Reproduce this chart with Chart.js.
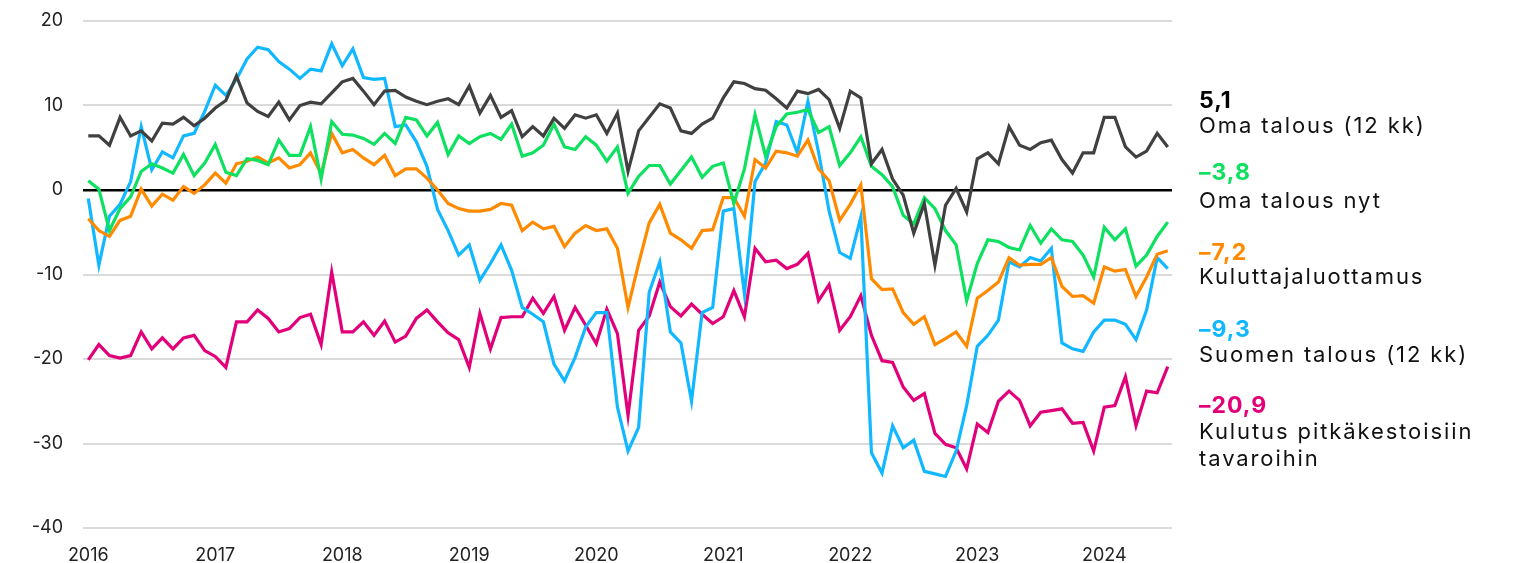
<!DOCTYPE html>
<html lang="fi">
<head>
<meta charset="utf-8">
<title>Kuluttajaluottamus</title>
<script src="https://cdn.jsdelivr.net/npm/chart.js@4.4.1/dist/chart.umd.min.js"></script>
<style>
  body { margin: 0; background: #fff; }
  #wrap { position: relative; width: 1531px; height: 563px; font-family: Inter, "Noto Sans", sans-serif; }
  #chart { position: absolute; left: 0; top: 0; }
  .lbl { position: absolute; left: 1199px; line-height: 1; white-space: nowrap; color: #111; font-size: 22px; letter-spacing: 1.9px; }
  .val { font-weight: 700; font-size: 23px; letter-spacing: 1px; }
</style>
</head>
<body>
<div id="wrap">
  <canvas id="chart" width="1531" height="563"></canvas>
  <div class="lbl val" style="top:89px;color:#000">5,1</div>
  <div class="lbl" style="top:114px">Oma talous (12 kk)</div>
  <div class="lbl val" style="top:161px;color:#0ee060">–3,8</div>
  <div class="lbl" style="top:189px">Oma talous nyt</div>
  <div class="lbl val" style="top:241px;color:#ff8a00">–7,2</div>
  <div class="lbl" style="top:265px">Kuluttajaluottamus</div>
  <div class="lbl val" style="top:318px;color:#12b8ff">–9,3</div>
  <div class="lbl" style="top:343px">Suomen talous (12 kk)</div>
  <div class="lbl val" style="top:394px;color:#e2007a">–20,9</div>
  <div class="lbl" style="top:420px">Kulutus pitkäkestoisiin</div>
  <div class="lbl" style="top:447px">tavaroihin</div>
</div>
<script>
// monthly, 1/2016 - 7/2024
const yearLabels = ['2016', '2017', '2018', '2019', '2020', '2021', '2022', '2023', '2024'];

const omaTalous12 = [
  6.4, 6.4, 5.3, 8.6, 6.4, 7.0, 5.8, 7.9, 7.8, 8.6, 7.6, 8.5,
  9.7, 10.6, 13.5, 10.3, 9.3, 8.7, 10.4, 8.3, 10.0, 10.4, 10.2, 11.5,
  12.8, 13.2, 11.7, 10.1, 11.7, 11.8, 11.0, 10.5, 10.1, 10.5, 10.8, 10.1,
  12.3, 9.1, 11.2, 8.6, 9.4, 6.3, 7.5, 6.4, 8.5, 7.3, 8.9, 8.5,
  8.9, 6.7, 9.1, 2.2, 7.0, 8.6, 10.2, 9.7, 7.0, 6.7, 7.8, 8.5,
  10.9, 12.8, 12.6, 12.0, 11.8, 10.8, 9.7, 11.7, 11.4, 11.9, 10.7, 7.3,
  11.7, 10.9, 3.1, 4.8, 1.3, -0.6, -5.1, -1.6, -8.9, -1.8, 0.2, -2.6,
  3.7, 4.4, 3.1, 7.5, 5.3, 4.8, 5.6, 5.9, 3.6, 2.0, 4.4, 4.4,
  8.6, 8.6, 5.1, 3.9, 4.6, 6.7, 5.1
];

const omaTalousNyt = [
  1.1, 0.1, -4.8, -2.2, -0.8, 2.2, 3.1, 2.6, 2.0, 4.2, 1.7, 3.2,
  5.4, 2.1, 1.7, 3.7, 3.5, 3.0, 5.9, 4.1, 4.1, 7.5, 1.3, 8.1,
  6.6, 6.5, 6.1, 5.4, 6.7, 5.5, 8.6, 8.3, 6.4, 8.0, 4.2, 6.4,
  5.5, 6.3, 6.7, 6.0, 7.8, 4.0, 4.4, 5.3, 7.8, 5.1, 4.8, 6.3,
  5.3, 3.4, 5.1, -0.4, 1.6, 2.9, 2.9, 0.7, 2.3, 3.9, 1.5, 2.8,
  3.2, -1.6, 2.5, 8.9, 4.0, 7.5, 9.0, 9.2, 9.5, 6.8, 7.5, 2.9,
  4.4, 6.3, 2.8, 1.8, 0.4, -3.0, -4.0, -0.9, -2.2, -4.8, -6.5, -13.1,
  -8.7, -5.9, -6.1, -6.8, -7.1, -4.2, -6.3, -4.6, -5.9, -6.1, -7.7, -10.3,
  -4.4, -5.9, -4.6, -9.0, -7.7, -5.5, -3.8
];

const kuluttajaluottamus = [
  -3.4, -4.8, -5.5, -3.6, -3.1, 0.1, -1.9, -0.5, -1.2, 0.4, -0.4, 0.6,
  2.0, 0.8, 3.1, 3.4, 3.9, 3.2, 3.8, 2.6, 3.0, 4.4, 1.9, 6.7,
  4.4, 4.8, 3.8, 3.0, 4.1, 1.7, 2.5, 2.5, 1.4, 0.0, -1.6, -2.2,
  -2.5, -2.5, -2.3, -1.6, -1.8, -4.8, -3.8, -4.6, -4.3, -6.7, -5.1, -4.2,
  -4.8, -4.6, -6.9, -13.9, -8.7, -3.9, -1.7, -5.1, -5.9, -6.9, -4.8, -4.7,
  -0.9, -0.9, -3.1, 3.6, 2.6, 4.6, 4.4, 4.0, 5.9, 2.5, 1.1, -3.6,
  -1.7, 0.6, -10.5, -11.8, -11.7, -14.5, -15.9, -15.0, -18.3, -17.6, -16.8, -18.5,
  -12.8, -11.9, -10.9, -8.0, -8.9, -8.8, -8.8, -8.0, -11.4, -12.6, -12.5, -13.4,
  -9.1, -9.6, -9.4, -12.6, -10.3, -7.6, -7.2
];

const suomenTalous12 = [
  -1.0, -8.9, -3.1, -1.7, 1.0, 7.5, 2.4, 4.5, 3.8, 6.4, 6.7, 9.3,
  12.4, 11.2, 13.1, 15.5, 16.9, 16.6, 15.2, 14.3, 13.2, 14.3, 14.1, 17.3,
  14.7, 16.7, 13.3, 13.1, 13.2, 7.5, 7.7, 5.7, 2.8, -2.3, -4.8, -7.7,
  -6.5, -10.7, -8.7, -6.5, -9.5, -13.9, -14.7, -15.6, -20.6, -22.6, -19.8, -16.2,
  -14.5, -14.5, -25.7, -30.9, -28.1, -12.1, -8.5, -16.8, -18.1, -25.0, -14.5, -13.9,
  -2.5, -2.2, -12.3, 1.0, 3.2, 8.1, 7.7, 4.4, 10.5, 4.5, -2.5, -7.4,
  -8.1, -3.2, -31.1, -33.5, -27.9, -30.5, -29.6, -33.3, -33.6, -33.9, -30.9, -25.5,
  -18.5, -17.2, -15.4, -8.5, -9.1, -8.0, -8.4, -6.9, -18.1, -18.8, -19.1, -16.8,
  -15.4, -15.4, -15.9, -17.7, -14.2, -8.0, -9.3
];

const kulutusPitka = [
  -20.1, -18.3, -19.6, -19.9, -19.6, -16.8, -18.8, -17.5, -18.8, -17.5, -17.2, -19.0,
  -19.7, -21.0, -15.6, -15.6, -14.2, -15.2, -16.8, -16.4, -15.1, -14.7, -18.3, -9.7,
  -16.8, -16.8, -15.6, -17.2, -15.5, -18.0, -17.3, -15.2, -14.2, -15.6, -16.9, -17.7,
  -21.0, -14.6, -18.8, -15.1, -15.0, -15.0, -12.8, -14.6, -12.6, -16.6, -13.9, -16.0,
  -18.2, -14.1, -17.0, -26.7, -16.6, -14.9, -10.9, -13.8, -14.9, -13.5, -14.7, -15.8,
  -15.0, -11.9, -15.0, -6.9, -8.5, -8.3, -9.3, -8.8, -7.5, -13.1, -11.2, -16.6,
  -15.0, -12.5, -17.2, -20.2, -20.4, -23.3, -24.9, -24.1, -28.8, -30.1, -30.5, -33.0,
  -27.7, -28.7, -25.0, -23.8, -24.9, -27.9, -26.3, -26.1, -25.9, -27.6, -27.5, -30.9,
  -25.7, -25.5, -22.1, -27.9, -23.8, -24.0, -20.9
];

const toPoints = arr => arr.map((v, i) => ({ x: i, y: v }));

function line(data, color) {
  return {
    data: toPoints(data),
    borderColor: color,
    borderWidth: 3.2,
    pointRadius: 0,
    tension: 0,
    fill: false
  };
}

const tickFont = { family: 'Inter, "Noto Sans", sans-serif', size: 18 };

new Chart(document.getElementById('chart'), {
  type: 'line',
  data: {
    datasets: [
      line(omaTalous12, '#404040'),
      line(omaTalousNyt, '#0ee060'),
      line(kuluttajaluottamus, '#ff8a00'),
      line(suomenTalous12, '#12b8ff'),
      line(kulutusPitka, '#e2007a')
    ]
  },
  options: {
    responsive: false,
    animation: false,
    layout: { padding: { top: 21, right: 359, bottom: 0, left: 0 } },
    plugins: { legend: { display: false }, tooltip: { enabled: false } },
    scales: {
      x: {
        type: 'linear',
        min: -0.5,
        max: 102.4,
        grid: { display: false },
        border: { display: false },
        afterBuildTicks: s => { s.ticks = yearLabels.map((y, i) => ({ value: i * 12 })); },
        afterFit: s => { s.height = 35; },
        ticks: {
          color: '#222',
          font: tickFont,
          padding: 9,
          maxRotation: 0,
          autoSkip: false,
          callback: v => yearLabels[v / 12]
        }
      },
      y: {
        min: -40,
        max: 20,
        border: { display: false },
        afterFit: s => { s.width = 83; s.paddingTop = 0; s.paddingBottom = 0; },
        grid: {
          drawTicks: false,
          color: c => c.tick && c.tick.value === 0 ? '#000' : '#dadada',
          lineWidth: c => c.tick && c.tick.value === 0 ? 2.5 : 2
        },
        ticks: { stepSize: 10, color: '#222', font: tickFont, padding: 20 }
      }
    }
  }
});
</script>
</body>
</html>
